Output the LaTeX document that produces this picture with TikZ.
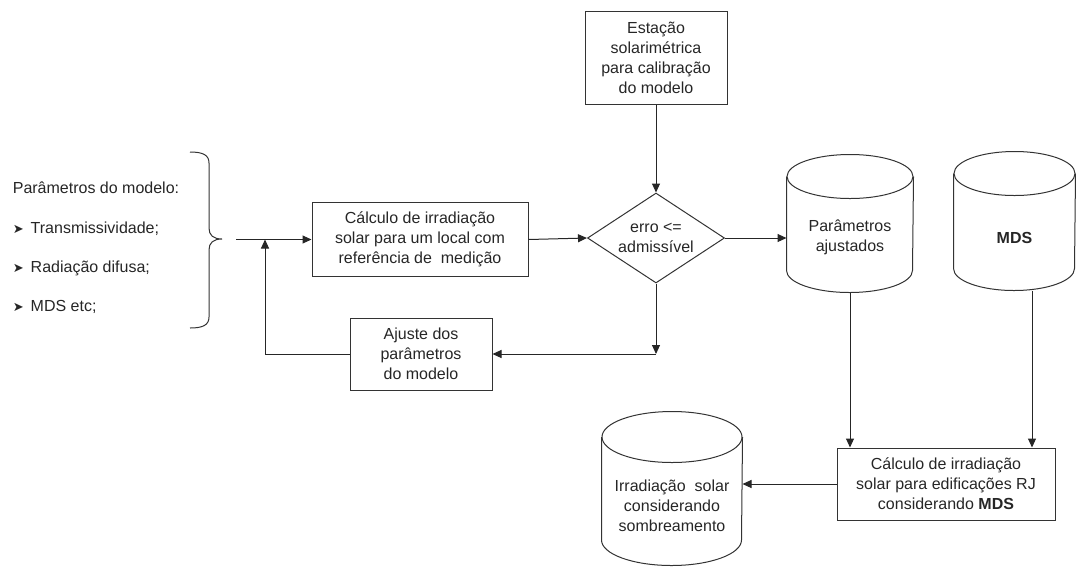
\documentclass[tikz,border=0pt]{standalone}
\usepackage{fontspec}
\setmainfont{Liberation Sans}
\newfontfamily\symfont{DejaVu Sans}
\usetikzlibrary{shapes.geometric,arrows.meta}
\tikzset{
  every node/.style={font=\fontsize{16}{20}\selectfont, text=black!85, align=center},
  caixa/.style={draw=black!80, rectangle, inner sep=0pt},
  decisao/.style={draw=black!80, diamond, aspect=1.5, inner sep=0pt},
  banco/.style={rectangle, inner sep=0pt},
  seta/.style={draw=black!85, -{Triangle[length=9pt,width=8pt]}},
  item/.style={anchor=west, align=left},
}
\newcommand{\marca}{{\symfont\fontsize{13}{13}\selectfont ➤}\hspace{7pt}}
% cilindro em volta de um no: nome, raio x, raio y
\newcommand{\cilindro}[3]{%
  \draw[black!80] ([yshift=-#3pt]#1.north) ellipse [x radius=#2pt, y radius=#3pt];
  \draw[black!80] ([yshift=-#3pt]#1.north west) -- ([yshift=#3pt]#1.south west)
    arc[start angle=180, end angle=360, x radius=#2pt, y radius=#3pt] -- ([yshift=-#3pt]#1.north east);
}
\begin{document}
\begin{tikzpicture}[x=1pt, y=-1pt, line width=1pt]
\useasboundingbox (0,0) rectangle (1076,566);

% parametros de entrada
\node[item] (P0) at (9,188) {Parâmetros do modelo:};
\node[item] (P1) at (9,229) {\marca Transmissividade;};
\node[item] (P2) at (9,268) {\marca Radiação difusa;};
\node[item] (P3) at (9,307) {\marca MDS etc;};
\draw[black!80] (190,152) .. controls (203,152) and (209,155) .. (209,163) -- (209,228)
  .. controls (209,235) and (213,239) .. (222,239) .. controls (213,239) and (209,243) .. (209,250)
  -- (209,317) .. controls (209,325) and (203,328) .. (190,328);

\node[caixa, minimum width=216, minimum height=74] (C1) at (420,239.5) {Cálculo de irradiação\\solar para um local com\\referência de \ medição};
\node[caixa, minimum width=142, minimum height=93] (E) at (656,57.5) {Estação\\solarimétrica\\para calibração\\do modelo};
\node[decisao, minimum width=137, minimum height=90] (D) at (656,238) {erro <=\\admissível};
\node[caixa, minimum width=142, minimum height=72] (A) at (421,354) {Ajuste dos\\parâmetros\\do modelo};
\node[caixa, minimum width=218, minimum height=72] (C2) at (946,484) {Cálculo de irradiação\\solar para edificações RJ\\considerando \textbf{MDS}};

% bancos de dados
\node[banco, minimum width=126, minimum height=137] (PA) at (850,223.5) {};
\node[banco, minimum width=121, minimum height=138] (M) at (1014.5,221) {};
\node[banco, minimum width=140, minimum height=153] (I) at (672,488.5) {};
\cilindro{PA}{63}{22}
\cilindro{M}{60.5}{22}
\cilindro{I}{70}{25.5}
\node (PAt) at (850,237.5) {Parâmetros\\ajustados};
\node (Mt) at (1014.5,238) {\textbf{MDS}};
\node (It) at (672,505.5) {Irradiação \ solar\\considerando\\sombreamento};

\coordinate (ponta) at (236,239.5);
\coordinate (junta) at (265,239.5);
\coordinate (canto) at (656,354);

\draw[seta] (ponta) -- (C1.west);
\draw[seta] (C1.east) -- (D.west);
\draw[seta] (E.south) -- (D.north);
\draw[seta] (D.east) -- (D.east -| PA.west);
\draw[seta] (D.south) -- (canto);
\draw[seta] (canto) -- (A.east);
\draw[seta] (A.west) -| (junta);
\draw[seta] (PA.south) -- (PA.south |- C2.north);
\draw[seta] ([xshift=17.5pt]M.south) -- ([xshift=17.5pt]M.south |- C2.north);
\draw[seta] (C2.west) -- (C2.west -| I.east);
\end{tikzpicture}
\end{document}
